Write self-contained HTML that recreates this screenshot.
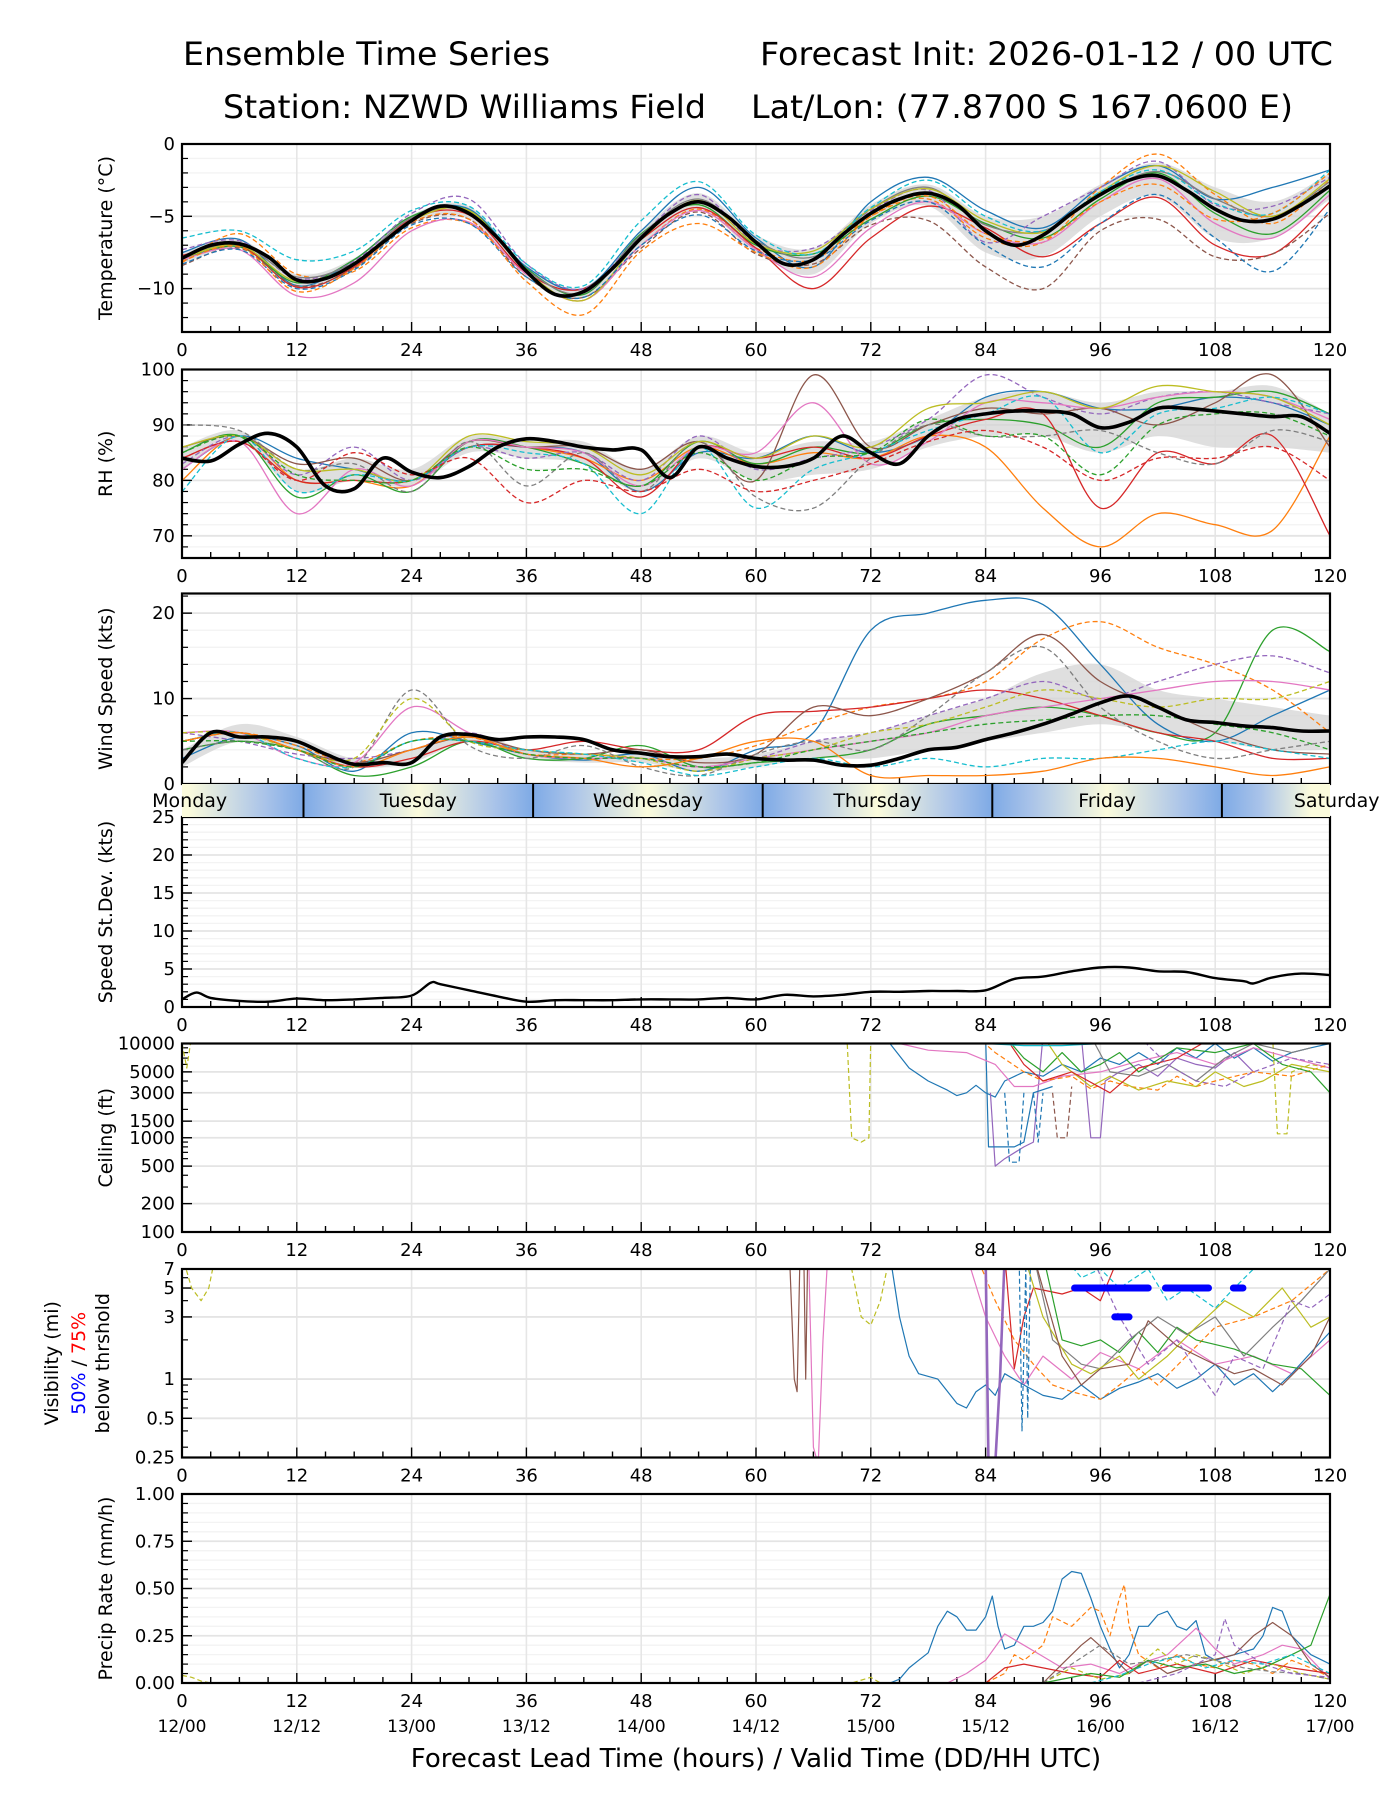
<!DOCTYPE html>
<html><head><meta charset="utf-8"><title>Ensemble Time Series</title>
<style>html,body{margin:0;padding:0;background:#fff}svg{display:block;font-family:"DejaVu Sans","Liberation Sans",sans-serif}</style>
</head><body>
<svg id="chart" xmlns="http://www.w3.org/2000/svg" width="1400" height="1800" viewBox="0 0 1400 1800">
<defs id="defs"></defs>
<text x="183" y="65" font-size="32" textLength="367" lengthAdjust="spacingAndGlyphs">Ensemble Time Series</text>
<text x="760" y="65" font-size="32" textLength="573" lengthAdjust="spacingAndGlyphs">Forecast Init: 2026-01-12 / 00 UTC</text>
<text x="223" y="118" font-size="32" textLength="483" lengthAdjust="spacingAndGlyphs">Station: NZWD Williams Field</text>
<text x="751" y="118" font-size="32" textLength="542" lengthAdjust="spacingAndGlyphs">Lat/Lon: (77.8700 S 167.0600 E)</text>
<g id="layer"></g>
</svg>
<script>
// ---------- data ----------
const COLORS = ['#1f77b4','#ff7f0e','#2ca02c','#d62728','#9467bd','#8c564b','#e377c2','#7f7f7f','#bcbd22','#17becf'];
const H6 = [0,6,12,18,24,30,36,42,48,54,60,66,72,78,84,90,96,102,108,114,120];
const H3 = [0,3,6,9,12,15,18,21,24,27,30,33,36,39,42,45,48,51,54,57,60,63,66,69,72,75,78,81,84,87,90,93,96,99,102,105,108,111,114,117,120];

const tempMean = [-7.9,-7.0,-6.9,-7.8,-9.4,-9.3,-8.3,-6.8,-5.3,-4.3,-4.8,-6.5,-8.8,-10.4,-10.2,-8.6,-6.5,-4.8,-4.0,-5.0,-6.8,-8.3,-8.0,-6.3,-4.8,-3.8,-3.4,-4.2,-6.0,-7.0,-6.3,-4.8,-3.5,-2.5,-2.2,-3.2,-4.5,-5.3,-5.2,-4.2,-2.9];
const tempLo = [-8.3,-7.2,-9.9,-8.7,-5.5,-5.2,-9.1,-10.6,-7.0,-4.6,-7.5,-9.0,-5.5,-4.3,-7.5,-7.8,-5.0,-3.6,-6.5,-6.5,-3.8];
const tempHi = [-7.5,-6.6,-9.0,-7.9,-4.9,-4.3,-8.4,-9.9,-6.0,-3.4,-6.3,-7.2,-4.2,-2.8,-5.0,-5.0,-2.8,-1.3,-3.0,-4.0,-2.0];
const tempM1 = [-7.5,-6.6,-9.8,-8.0,-5.0,-4.5,-8.5,-10.0,-6.0,-3.0,-6.5,-8.5,-4.0,-2.3,-4.6,-5.8,-3.0,-1.5,-3.8,-3.0,-1.8];
const tempM2 = [-8.2,-6.2,-9.0,-8.8,-5.8,-5.5,-9.0,-10.8,-7.0,-4.5,-7.2,-8.0,-5.0,-3.8,-6.5,-6.8,-3.0,-0.7,-3.5,-5.5,-2.5];
const tempM3 = [-8.0,-7.1,-9.6,-8.0,-5.0,-4.6,-8.6,-10.4,-6.2,-4.2,-7.0,-7.6,-5.2,-3.6,-5.5,-6.5,-3.8,-2.0,-4.8,-6.2,-3.2];
const tempM4 = [-7.7,-7.0,-9.9,-8.5,-5.2,-4.9,-8.9,-10.0,-6.6,-4.4,-7.2,-10.0,-6.5,-4.3,-5.8,-7.8,-5.5,-3.7,-7.0,-7.6,-4.0];
const tempM5 = [-7.3,-6.7,-9.3,-8.1,-4.8,-3.8,-8.3,-10.0,-6.3,-3.5,-6.9,-7.2,-4.6,-3.2,-6.8,-5.0,-3.0,-1.2,-4.2,-4.3,-2.3];
const tempM6 = [-8.4,-7.2,-9.8,-8.6,-5.5,-5.2,-9.2,-10.6,-7.2,-4.7,-7.6,-8.3,-5.6,-5.3,-8.5,-10.0,-6.0,-5.2,-7.8,-7.6,-4.8];
const tempM7 = [-8.0,-7.3,-10.5,-9.6,-6.0,-5.4,-9.0,-10.8,-7.0,-4.6,-7.3,-9.2,-5.8,-4.0,-6.2,-6.8,-4.0,-2.4,-5.5,-6.5,-3.5];
const tempM8 = [-7.8,-6.9,-9.2,-8.2,-5.1,-4.7,-8.7,-10.3,-6.3,-3.8,-6.7,-7.8,-4.5,-3.0,-5.6,-6.0,-3.5,-1.9,-3.8,-5.0,-2.6];
const tempM9 = [-7.9,-7.0,-9.5,-8.3,-5.3,-4.6,-8.8,-10.8,-6.6,-3.9,-6.9,-7.4,-4.5,-3.1,-5.3,-6.1,-3.3,-1.5,-3.3,-5.0,-2.4];
const tempM10 = [-6.5,-6.0,-8.0,-7.4,-4.6,-4.3,-8.3,-9.8,-5.3,-2.6,-6.3,-7.6,-4.4,-2.5,-5.0,-6.0,-3.3,-1.8,-4.1,-4.8,-1.8];
const tempM11 = [-8.3,-7.3,-10.0,-8.7,-5.6,-5.5,-9.2,-10.6,-7.0,-4.9,-7.4,-8.0,-5.3,-4.0,-7.0,-8.5,-5.5,-3.5,-6.5,-8.8,-4.5];
const tempM12 = [-8.1,-7.1,-10.2,-8.6,-5.4,-5.2,-9.5,-11.8,-7.4,-5.5,-7.5,-8.5,-5.0,-3.6,-6.2,-6.6,-4.0,-2.8,-5.2,-4.8,-2.0];

const rhMean = [84,83.5,86.5,88.5,86,79,78.5,84,81.5,80.5,82.5,86,87.5,87,86,85.5,85.5,80.5,86,84,82.5,82.5,84,88,85,83,88,91,92,92.5,92.5,92,89.5,90.5,93,93,92.5,92,91.5,91.5,88.5];
const rhLo = [82,87,78,80,79,85,84,83,78,84,80,81,82,86,88,88,85,88,86,86,85];
const rhHi = [86,89,82,84,82,88,87,87,82,88,85,87,87,91,95,96,94,96,96,97,92];
const rhM1 = [82,88,84,82,80,86,86,85,78,85,84,88,85,88,95,96,93,93,95,94,90];
const rhM2 = [80,88,80,80,79,87,86,84,80,86,83,85,84,88,86,75,68,74,72,71,88];
const rhM3 = [85,88,77,81,78,87,86,83,79,87,83,86,85,90,91,90,86,94,95,96,92];
const rhM4 = [84,87,80,80,80,86,86,84,77,86,84,86,84,88,91,92,75,85,83,88,70];
const rhM5 = [83,88,81,86,80,86,84,85,80,88,82,84,86,91,99,95,92,95,96,94,92];
const rhM6 = [86,88,83,84,80,87,86,86,82,87,80,99,86,90,93,92,93,90,94,99,86];
const rhM7 = [82,87,74,82,79,87,86,85,79,86,85,94,83,87,94,94,93,95,96,95,91];
const rhM8 = [90,89,82,83,78,87,79,85,78,87,77,75,84,90,88,88,89,85,83,89,87];
const rhM9 = [86,88,82,82,80,88,87,86,81,87,84,88,86,93,94,96,93,97,96,95,90];
const rhM10 = [78,88,78,81,80,86,85,83,74,86,75,82,85,89,92,95,85,92,93,95,92];
const rhM11 = [84,87,80,85,81,84,76,80,78,82,78,80,83,87,89,86,80,84,84,86,80];
const rhM12 = [85,88,81,80,80,86,82,82,79,85,80,84,85,91,88,88,81,90,92,92,88];

const windMean = [2.5,6,5.5,5.5,5,3.5,2.3,2.5,2.5,5.5,5.8,5.2,5.5,5.5,5.2,4,3.6,3.2,3.2,3.5,3,2.8,2.8,2.2,2.2,3,4,4.3,5.2,6,7,8.2,9.5,10.3,9,7.5,7.2,6.8,6.6,6.2,6.2];
const windLo = [2,5,4,2,2.5,5,3,2.5,2.5,1.5,2,3,3,4,5,6,7,6,5,4,4];
const windHi = [4,7,5.5,3,4,6,4,3.5,3.5,3,3.5,5,6,8,10,13,14,11,10,9,8];
const windM1 = [3,5.5,4.5,1.5,6,5,3.5,2.8,3.5,1.5,4,6,18,20,21.5,21,14,7,5,8,11];
const windM2 = [5,6,4.5,2.5,5,5.5,3.5,3.5,3,3,4.5,7,9,10,12,17,19,16,14,11,6];
const windM3 = [4,5,4,1,2,5,3,3,4.5,2,2.5,3,4,7,8,9,8,6,6,18,15.5];
const windM4 = [5,6,4,2,3,5,4,5,4,4,8,8.5,9,10,11,10,8,6,5,3,3];
const windM5 = [6,5,3.5,3,4,6,3.5,3,3,2,3,5,6,8,10,12,10,12,14,15,13];
const windM6 = [5,6,4,2.5,4,5.5,4,3.5,4,2.5,3.5,9,8,10,13,17.5,12,9,6,4,3.5];
const windM7 = [6,6,3,2.5,9,6,3.5,3,3,2,3,4,5,6,8,9,10,11,12,12,11];
const windM8 = [4,5,4,2,11,4.5,3,4.5,2,1,3.5,5,4,8,13,16,9,5,3,4,5];
const windM9 = [6,6,4,3,10,5,4,3.5,3,1.5,3,4,6,7,9,11,10,9,10,10,12];
const windM10 = [5,6,3,2,5,5,4,3.5,2.5,1,2,3,2,3,2,3,3,4,5,4,3];
const windM11 = [5,6,4,2,4,5.5,3.5,3,2,3,5,5,1,1,1,1.5,3,3,2,1,2];
const windM12 = [5,5,4,2,5,5,3.5,3,3,2,2.5,4,5,6,7,7.5,8,8,7,6,4];

const stdHours = [0,1.5,3,6,9,12,15,18,21,24,26,27,30,33,36,39,42,45,48,51,54,57,60,63,66,69,72,75,78,81,84,87,90,93,96,99,102,105,108,111,112,114,117,120];
const stdVals = [1,1.9,1.2,0.8,0.7,1.1,0.9,1.0,1.2,1.5,3.2,3.0,2.2,1.4,0.7,0.9,0.9,0.9,1.0,1.0,1.0,1.2,1.0,1.6,1.4,1.6,2.0,2.0,2.1,2.1,2.2,3.7,4.0,4.7,5.2,5.2,4.7,4.6,3.8,3.4,3.1,3.9,4.4,4.2];

const ceilBlue = [[73,12000],[74,10000],[76,5500],[78,4000],[80,3200],[81,2800],[82,3000],[83,3600],[84,3000],[85,2700],[86,4000],[88,5000],[90,4500],[92,6000],[94,5000],[96,7000],[98,6000],[100,8000],[102,6000],[104,9000],[106,7000],[108,10000],[110,7000],[112,9000],[114,6500],[116,8000],[118,9000],[120,10000]];
const ceilOliveA = [[0,10000],[0.5,5500],[1,12000]];
const ceilOliveB = [[69.5,12000],[70,1000],[71,900],[71.8,1000],[72,12000]];
const ceilOliveC = [[114,12000],[114.5,1100],[115.5,1100],[116,5000],[118,6000],[120,5500]];
const ceilPurple = [[84.5,3000],[85,500],[86,600],[88,800],[89,900],[90,12000]];
const ceilPurpleB = [[94,12000],[95,1000],[96,1000],[96.5,4000],[98,5000],[100,6000],[102,4500],[104,7000],[106,6000],[108,5500],[110,8000],[112,5000]];
const ceilBlueLow = [[84,12000],[84.3,800],[87,800],[88,900],[89,3000],[91,3500]];
const ceilBlueDashA = [[86,3000],[86.5,550],[87.5,550],[88,3000]];
const ceilBlueDashB = [[89,3000],[89.5,900],[90,3000]];
const ceilBrownDash = [[91,3000],[91.5,1000],[92.5,1000],[93,3500]];
const ceilPink = [[72,12000],[75,10000],[78,8500],[82,8000],[85,6000],[87,3500],[89,3500],[92,4500],[96,5000],[100,6500],[104,8000],[108,6000],[112,9000],[116,7000],[120,5500]];
const ceilOrangeDash = [[83,12000],[85,8000],[88,5000],[90,4000],[93,4500],[95,3300],[97,4000],[99,3500],[102,3200],[104,4500],[106,3500],[108,4000],[112,5000],[116,4500],[120,6000]];
const ceilGreen = [[86,12000],[88,7000],[90,5000],[92,8000],[94,5000],[96,6000],[98,8000],[100,5000],[104,9000],[108,8000],[112,10000],[115,6000],[118,5000],[120,3000]];
const ceilOlive = [[90,12000],[92,6000],[95,3500],[97,4500],[100,3200],[103,4000],[106,3500],[108,5000],[111,3500],[113,4000],[116,6000],[120,5000]];
const ceilRed = [[86,12000],[88,6000],[90,4000],[93,5000],[97,3000],[100,5500],[104,7000],[108,12000]];
const ceilCyan = [[80,10500],[84,10000],[88,9500],[92,9500],[96,10000],[100,12000]];
const ceilGray = [[95,12000],[97,5000],[100,4500],[103,6000],[106,4000],[109,7000],[112,10000],[116,8000],[118,9000]];
const ceilPurpleDash = [[100,12000],[103,6000],[106,4000],[109,3500],[112,5000],[116,7000],[120,6000]];

const visOliveA = [[0,9],[1,5],[2,4],[2.8,5],[3.5,9]];
const visOliveB = [[69,9],[70,7],[71,3],[72,2.6],[73,4],[74,9]];
const visBrownA = [[63.5,9],[64,1],[64.3,0.8],[64.6,9]];
const visBrownB = [[65,9],[65.2,1],[65.4,9]];
const visPinkA = [[65.5,9],[66,0.3],[66.5,0.22],[67,2],[67.5,9]];
const visPinkB = [[82,9],[84,3],[86,1.5],[88,0.9],[90,1.5],[93,1],[96,1.6],[100,1.2],[104,2],[108,1.3],[112,1.5],[116,1.1],[120,2]];
const visBlue = [[74,9],[75,3],[76,1.5],[77,1.1],[79,1],[81,0.65],[82,0.6],[83,0.8],[84,0.9],[85,0.75],[86,1.1],[88,0.9],[90,0.75],[92,0.7],[94,0.9],[96,0.7],[98,0.85],[100,0.95],[102,1.1],[104,0.85],[106,1.0],[108,1.3],[110,0.9],[112,1.1],[114,0.8],[116,1.1],[118,1.6],[120,2.3]];
const visPurple = [[84,9],[84.3,0.22],[85,0.22],[85.5,1],[86,9]];
const visBlueDash = [[87.5,9],[87.8,0.4],[88.2,7],[88.4,0.5],[88.7,9]];
const visOrangeDash = [[83,9],[85,4],[87,2],[89,1.3],[91,0.9],[93,0.8],[96,0.7],[98,0.9],[100,1.2],[102,0.9],[105,1.5],[108,2.5],[112,3],[116,4],[120,7]];
const visRed = [[86,9],[87,1.2],[88,3],[89,5],[92,4.5],[94,5],[96,4],[98,9]];
const visGreen = [[90,9],[92,2],[94,1.8],[96,2],[98,1.6],[100,2.3],[102,1.6],[104,2.5],[106,2],[110,1.7],[114,1.3],[117,1.2],[120,0.75]];
const visGray = [[89,9],[91,2],[94,1.3],[96,1.2],[99,2],[102,3],[105,2.2],[108,3],[111,1.5],[114,2.5],[117,4],[120,7]];
const visOlive = [[88,9],[90,3],[93,1.3],[95,1.1],[98,1.5],[100,1],[103,1.5],[106,2.5],[109,4],[112,3],[115,5],[118,2.5],[120,3]];
const visBrown = [[89,9],[92,1.5],[94,0.9],[96,1.2],[99,1.3],[101,2.8],[104,1.8],[107,1.4],[110,1.1],[112,1.2],[115,0.9],[118,1.5],[120,3]];
const visPurpleDash = [[95,9],[98,3],[101,1.3],[104,2],[106,1.2],[108,0.75],[110,1.5],[113,1.2],[116,4],[118,3.5],[120,4.5]];
const visCyanDash = [[92,9],[94,6],[96,7],[98,5],[101,7],[103,4],[105,5],[108,3.5],[110,5],[112,7],[114,9]];
const visBar50 = [[93.3,101,5],[102.8,107.3,5],[109.9,110.9,5],[97.5,99,3]];

const prBlue = [[0,0],[74,0],[75,0.02],[76,0.08],[77,0.12],[78,0.16],[79,0.3],[80,0.38],[81,0.35],[82,0.28],[83,0.28],[84,0.35],[84.7,0.46],[85.3,0.3],[86,0.18],[87,0.2],[88,0.3],[89,0.3],[90,0.32],[91,0.38],[92,0.55],[93,0.59],[94,0.58],[95,0.45],[96,0.3],[97,0.18],[98,0.08],[99,0.15],[100,0.3],[101,0.3],[102,0.36],[103,0.38],[104,0.3],[105,0.28],[106,0.33],[107,0.15],[108,0.12],[110,0.15],[112,0.18],[113,0.25],[114,0.4],[115,0.38],[116,0.25],[118,0.15],[120,0.1]];
const prOrangeDash = [[84,0],[86,0.05],[87,0.15],[88,0.12],[90,0.2],[91,0.35],[93,0.3],[95,0.4],[96,0.38],[97,0.25],[98,0.45],[98.5,0.52],[99,0.3],[100,0.15],[102,0.08],[104,0.15],[106,0.1],[108,0.08],[110,0.12],[112,0.1],[114,0.05],[116,0.12],[118,0.08],[120,0.03]];
const prPink = [[80,0],[82,0.05],[84,0.12],[86,0.26],[88,0.2],[90,0.14],[92,0.08],[95,0.1],[98,0.05],[100,0.1],[103,0.15],[106,0.29],[108,0.18],[110,0.1],[113,0.15],[115,0.2],[117,0.18],[120,0.02]];
const prBrown = [[90,0],[92,0.1],[94,0.2],[95,0.24],[97,0.15],[99,0.05],[101,0.12],[103,0.05],[106,0.1],[110,0.15],[112,0.25],[114,0.32],[116,0.25],[118,0.1],[120,0.03]];
const prRed = [[84,0],[86,0.08],[88,0.1],[90,0.08],[93,0.05],[96,0.03],[98,0.12],[100,0.05],[104,0.1],[108,0.05],[112,0.12],[116,0.08],[120,0.05]];
const prOlive = [[0,0.04],[1,0.03],[2,0.01],[3,0],[70,0],[72,0.03],[73,0],[90,0],[93,0.08],[96,0.02],[99,0.05],[102,0.18],[104,0.1],[106,0.15],[108,0.12],[111,0.05],[114,0.1],[117,0.05],[120,0.02]];
const prGreen = [[90,0],[95,0.05],[98,0.03],[101,0.12],[104,0.08],[107,0.1],[110,0.05],[113,0.08],[116,0.15],[118,0.2],[120,0.47]];
const prGrayDash = [[90,0],[93,0.1],[96,0.2],[99,0.1],[102,0.12],[105,0.15],[108,0.12],[111,0.08],[114,0.06],[117,0.05],[120,0.02]];
const prPurpleDash = [[100,0],[104,0.05],[108,0.15],[109,0.34],[110,0.2],[113,0.1],[116,0.05],[120,0.03]];
const prCyanDash = [[95,0],[98,0.04],[101,0.1],[104,0.14],[107,0.08],[110,0.12],[113,0.1],[116,0.15],[120,0.05]];

const xTickLabels = ['0','12','24','36','48','60','72','84','96','108','120'];
const dateLabels = ['12/00','12/12','13/00','13/12','14/00','14/12','15/00','15/12','16/00','16/12','17/00'];
const dayNames = ['Monday','Tuesday','Wednesday','Thursday','Friday','Saturday'];
const dayBoundaries = [12.7,36.7,60.7,84.7,108.7];

// ---------- rendering ----------
const NS = 'http://www.w3.org/2000/svg';
const layer = document.getElementById('layer');
const defs = document.getElementById('defs');
const X0 = 182, X1 = 1330;
function X(h){ return X0 + (h/120)*(X1-X0); }
function mk(tag, attrs, parent){ const e=document.createElementNS(NS,tag); for(const k in attrs) e.setAttribute(k,attrs[k]); (parent||layer).appendChild(e); return e; }

const panels = {
  temp:{top:144,bot:332,min:-13,max:0,log:false,xlab:true,major:[0,-5,-10],minor:[-1,-2,-3,-4,-6,-7,-8,-9,-11,-12],label:['Temperature (°C)']},
  rh:{top:369.5,bot:558,min:66,max:100,log:false,xlab:true,major:[70,80,90,100],minor:[68,72,74,76,78,82,84,86,88,92,94,96,98],label:['RH (%)']},
  wind:{top:593.5,bot:784,min:0,max:22.3,log:false,xlab:false,major:[0,10,20],minor:[2,4,6,8,12,14,16,18,22],label:['Wind Speed (kts)']},
  std:{top:817,bot:1007,min:0,max:25,log:false,xlab:true,major:[0,5,10,15,20,25],minor:[1,2,3,4,6,7,8,9,11,12,13,14,16,17,18,19,21,22,23,24],label:['Speed St.Dev. (kts)']},
  ceil:{top:1043.5,bot:1232,min:100,max:10000,log:true,xlab:true,major:[100,200,500,1000,1500,3000,5000,10000],minor:[300,400,600,700,800,900,2000,4000,6000,7000,8000,9000],label:['Ceiling (ft)']},
  vis:{top:1269,bot:1457.5,min:0.25,max:7,log:true,xlab:true,major:[0.25,0.5,1,3,5,7],minor:[0.3,0.4,0.6,0.7,0.8,0.9,2,4,6],label:null},
  pr:{top:1494,bot:1683,min:0,max:1,log:false,xlab:true,major:[0,0.25,0.5,0.75,1],minor:[0.05,0.1,0.15,0.2,0.3,0.35,0.4,0.45,0.55,0.6,0.65,0.7,0.8,0.85,0.9,0.95],label:['Precip Rate (mm/h)']}
};
function Yf(p){ return v => { if(p.log){ const f=(Math.log(v)-Math.log(p.min))/(Math.log(p.max)-Math.log(p.min)); return p.bot - f*(p.bot-p.top);} return p.bot - (v-p.min)/(p.max-p.min)*(p.bot-p.top); }; }
function fmt(key,v){ if(key==='pr') return v.toFixed(2); if(key==='temp'&&v<0) return '\u2212'+Math.abs(v); return String(v); }

function drawAxes(key){
  const p=panels[key], Y=Yf(p);
  const g=mk('g',{});  
  if(!p.log) p.minor.forEach(v=>{ mk('line',{x1:X0,x2:X1,y1:Y(v),y2:Y(v),stroke:'#f3f3f3','stroke-width':1.3},g); });
  for(let h=0;h<=120;h+=12) mk('line',{x1:X(h),x2:X(h),y1:p.top,y2:p.bot,stroke:'#e6e6e6','stroke-width':1.6},g);
  p.major.forEach(v=>{ mk('line',{x1:X0,x2:X1,y1:Y(v),y2:Y(v),stroke:'#e4e4e4','stroke-width':1.8},g); });
  for(let h=0;h<=120;h+=3){ const L=(h%12===0)?10:6; mk('line',{x1:X(h),x2:X(h),y1:p.bot,y2:p.bot-L,stroke:'#000','stroke-width':1.4},g); }
  p.major.forEach(v=>{ mk('line',{x1:X0,x2:X0+10,y1:Y(v),y2:Y(v),stroke:'#000','stroke-width':1.4},g);
    const t=mk('text',{x:X0-7,y:Y(v)+6,'font-size':18,'text-anchor':'end'},g); t.textContent=fmt(key,v);
      });
  p.minor.forEach(v=>{ mk('line',{x1:X0,x2:X0+6,y1:Y(v),y2:Y(v),stroke:'#000','stroke-width':1.2},g); });
  if(p.xlab) xTickLabels.forEach((s,i)=>{ const t=mk('text',{x:X(i*12),y:p.bot+24,'font-size':18,'text-anchor':'middle'},g); t.textContent=s;
      });
  if(p.label){ const cy=(p.top+p.bot)/2; const t=mk('text',{x:0,y:0,'font-size':19,'text-anchor':'middle',transform:`translate(112,${cy}) rotate(-90)`},g); t.textContent=p.label[0];
      }
  const cp=mk('clipPath',{id:'clip-'+key},defs); mk('rect',{x:X0,y:p.top,width:X1-X0,height:p.bot-p.top},cp);
  const sg=mk('g',{'clip-path':`url(#clip-${key})`});  
  return sg;
}
function frame(key){ const p=panels[key]; const r=mk('rect',{x:X0,y:p.top,width:X1-X0,height:p.bot-p.top,fill:'none',stroke:'#000','stroke-width':2.2});
    }

function smoothPath(pts){
  let d=`M${pts[0][0].toFixed(1)},${pts[0][1].toFixed(1)}`;
  for(let i=0;i<pts.length-1;i++){ const p0=pts[Math.max(0,i-1)],p1=pts[i],p2=pts[i+1],p3=pts[Math.min(pts.length-1,i+2)];
    const c1=[p1[0]+(p2[0]-p0[0])/6,p1[1]+(p2[1]-p0[1])/6], c2=[p2[0]-(p3[0]-p1[0])/6,p2[1]-(p3[1]-p1[1])/6];
    d+=` C${c1[0].toFixed(1)},${c1[1].toFixed(1)} ${c2[0].toFixed(1)},${c2[1].toFixed(1)} ${p2[0].toFixed(1)},${p2[1].toFixed(1)}`; }
  return d;
}
function gridLine(g,key,hours,vals,color,width,dash,name){
  const Y=Yf(panels[key]); const pts=hours.map((h,i)=>[X(h),Y(vals[i])]);
  const e=mk('path',{d:smoothPath(pts),fill:'none',stroke:color,'stroke-width':width,'stroke-linejoin':'round'},g);
  if(dash) e.setAttribute('stroke-dasharray','5,3');
    return e;
}
function band(g,key,hours,lo,hi,name){
  const Y=Yf(panels[key]); const a=hours.map((h,i)=>[X(h),Y(hi[i])]); const b=hours.map((h,i)=>[X(h),Y(lo[i])]).reverse();
  const e=mk('path',{d:smoothPath(a)+' L'+smoothPath(b).slice(1)+' Z',fill:'#d4d4d4','fill-opacity':0.75,stroke:'none'},g);
   
}
function ptLine(g,key,pts,color,width,dash,name){
  const p=panels[key],Y=Yf(p);
  const d='M'+pts.map(q=>`${X(q[0]).toFixed(1)},${Y(Math.max(q[1],p.log?p.min*0.8:p.min-1)).toFixed(1)}`).join(' L');
  const e=mk('path',{d:d,fill:'none',stroke:color,'stroke-width':width,'stroke-linejoin':'round'},g);
  if(dash) e.setAttribute('stroke-dasharray','5,3');
   
}

let g=drawAxes('temp');
band(g,'temp',H6,tempLo,tempHi,'temp-spread-band');
[tempM1,tempM2,tempM3,tempM4,tempM5,tempM6,tempM7,tempM8,tempM9,tempM10,tempM11,tempM12].forEach((m,i)=>gridLine(g,'temp',H6,m,COLORS[i%10],1.3,[1,4,5,9,10,11].includes(i),'temp-member-'+(i+1)));
gridLine(g,'temp',H3,tempMean,'#000',3.6,false,'temp-ensemble-mean');
frame('temp');

g=drawAxes('rh');
band(g,'rh',H6,rhLo,rhHi,'rh-spread-band');
[rhM1,rhM2,rhM3,rhM4,rhM5,rhM6,rhM7,rhM8,rhM9,rhM10,rhM11,rhM12].forEach((m,i)=>gridLine(g,'rh',H6,m,[COLORS[0],COLORS[1],COLORS[2],COLORS[3],COLORS[4],COLORS[5],COLORS[6],COLORS[7],COLORS[8],COLORS[9],COLORS[3],COLORS[2]][i],1.3,[4,7,9,10,11].includes(i),'rh-member-'+(i+1)));
gridLine(g,'rh',H3,rhMean,'#000',3.6,false,'rh-ensemble-mean');
frame('rh');

g=drawAxes('wind');
band(g,'wind',H6,windLo,windHi,'wind-spread-band');
[windM1,windM2,windM3,windM4,windM5,windM6,windM7,windM8,windM9,windM10,windM11,windM12].forEach((m,i)=>gridLine(g,'wind',H6,m,[COLORS[0],COLORS[1],COLORS[2],COLORS[3],COLORS[4],COLORS[5],COLORS[6],COLORS[7],COLORS[8],COLORS[9],COLORS[1],COLORS[2]][i],1.3,[1,4,7,8,9,11].includes(i),'wind-member-'+(i+1)));
gridLine(g,'wind',H3,windMean,'#000',3.6,false,'wind-ensemble-mean');
frame('wind');

g=drawAxes('std');
gridLine(g,'std',stdHours,stdVals,'#000',2.4,false,'speed-stdev-line');
frame('std');

(function(){
  const top=784,bot=817;
  const grad=mk('linearGradient',{id:'daygrad',x1:X0,x2:X1,y1:0,y2:0,gradientUnits:'userSpaceOnUse'},defs);
  const stops=[[0,'#fbfbdc']];
  dayBoundaries.forEach(B=>{ stops.push([B-12,'#fbfbdc']); stops.push([B-4,'#a9c3e9']); stops.push([B,'#7eaae6']); stops.push([B+4,'#a9c3e9']); });
  stops.push([118,'#fbfbdc']);stops.push([120,'#fbfbdc']);
  stops.filter(s=>s[0]>=0&&s[0]<=120).sort((a,b)=>a[0]-b[0]).forEach(s=>mk('stop',{offset:(s[0]/120).toFixed(4),'stop-color':s[1]},grad));
  const r=mk('rect',{x:X0,y:top,width:X1-X0,height:bot-top,fill:'url(#daygrad)'});
   
  dayBoundaries.forEach(B=>{ const l=mk('line',{x1:X(B),x2:X(B),y1:top,y2:bot,stroke:'#000','stroke-width':2});
      });
  dayNames.forEach((n,i)=>{ const h=i===0?0.8:dayBoundaries[i-1]+12; const t=mk('text',{x:X(h),y:807,'font-size':19,'text-anchor':'middle'}); t.textContent=n;
      });
})();

g=drawAxes('ceil');
[[ceilBlue,0,0],[ceilOliveA,8,1],[ceilOliveB,8,1],[ceilOliveC,8,1],[ceilPurple,4,0],[ceilPurpleB,4,0],[ceilBlueLow,0,0],[ceilBlueDashA,0,1],[ceilBlueDashB,0,1],[ceilBrownDash,5,1],[ceilPink,6,0],[ceilOrangeDash,1,1],[ceilGreen,2,0],[ceilOlive,8,0],[ceilRed,3,0],[ceilCyan,9,0],[ceilGray,7,0],[ceilPurpleDash,4,1]]
 .forEach((m,i)=>ptLine(g,'ceil',m[0],COLORS[m[1]],1.2,m[2],'ceiling-member-'+(i+1)));
frame('ceil');

g=drawAxes('vis');
[[visOliveA,8,1],[visOliveB,8,1],[visBrownA,5,0],[visBrownB,5,0],[visPinkA,6,0],[visPinkB,6,0],[visBlue,0,0],[visOrangeDash,1,1],[visRed,3,0],[visGreen,2,0],[visGray,7,0],[visOlive,8,0],[visBrown,5,0],[visPurpleDash,4,1],[visCyanDash,9,1],[visBlueDash,0,1]]
 .forEach((m,i)=>ptLine(g,'vis',m[0],COLORS[m[1]],1.2,m[2],'visibility-member-'+(i+1)));
ptLine(g,'vis',visPurple,COLORS[4],2.6,0,'visibility-member-thick');
(function(){ const Y=Yf(panels.vis); visBar50.forEach(b=>{ const l=mk('line',{x1:X(b[0]),x2:X(b[1]),y1:Y(b[2]),y2:Y(b[2]),stroke:'#0000ff','stroke-width':7,'stroke-linecap':'round'},g);
    }); })();
frame('vis');
(function(){ const cy=(panels.vis.top+panels.vis.bot)/2;
  const t1=mk('text',{'font-size':19,'text-anchor':'middle',transform:`translate(58,${cy}) rotate(-90)`}); t1.textContent='Visibility (mi)';
   
  const t2=mk('text',{'font-size':19,'text-anchor':'middle',transform:`translate(85,${cy}) rotate(-90)`});
   
  const a=mk('tspan',{fill:'#0000ff'},t2); a.textContent='50%'; const b=mk('tspan',{},t2); b.textContent=' / '; const c=mk('tspan',{fill:'#ff0000'},t2); c.textContent='75%';
  const t3=mk('text',{'font-size':19,'text-anchor':'middle',transform:`translate(109,${cy}) rotate(-90)`}); t3.textContent='below thrshold';
    })();

g=drawAxes('pr');
[[prBlue,0,0],[prOrangeDash,1,1],[prPink,6,0],[prBrown,5,0],[prRed,3,0],[prOlive,8,1],[prGreen,2,0],[prGrayDash,7,1],[prPurpleDash,4,1],[prCyanDash,9,1]]
 .forEach((m,i)=>ptLine(g,'pr',m[0],COLORS[m[1]],1.2,m[2],'precip-member-'+(i+1)));
frame('pr');
dateLabels.forEach((s,i)=>{ const t=mk('text',{x:X(i*12),y:1732,'font-size':17,'text-anchor':'middle'}); t.textContent=s;
    });
(function(){ const t=mk('text',{x:(X0+X1)/2,y:1767,'font-size':26,'text-anchor':'middle'}); t.textContent='Forecast Lead Time (hours) / Valid Time (DD/HH UTC)';
    })();
</script>
</body></html>
